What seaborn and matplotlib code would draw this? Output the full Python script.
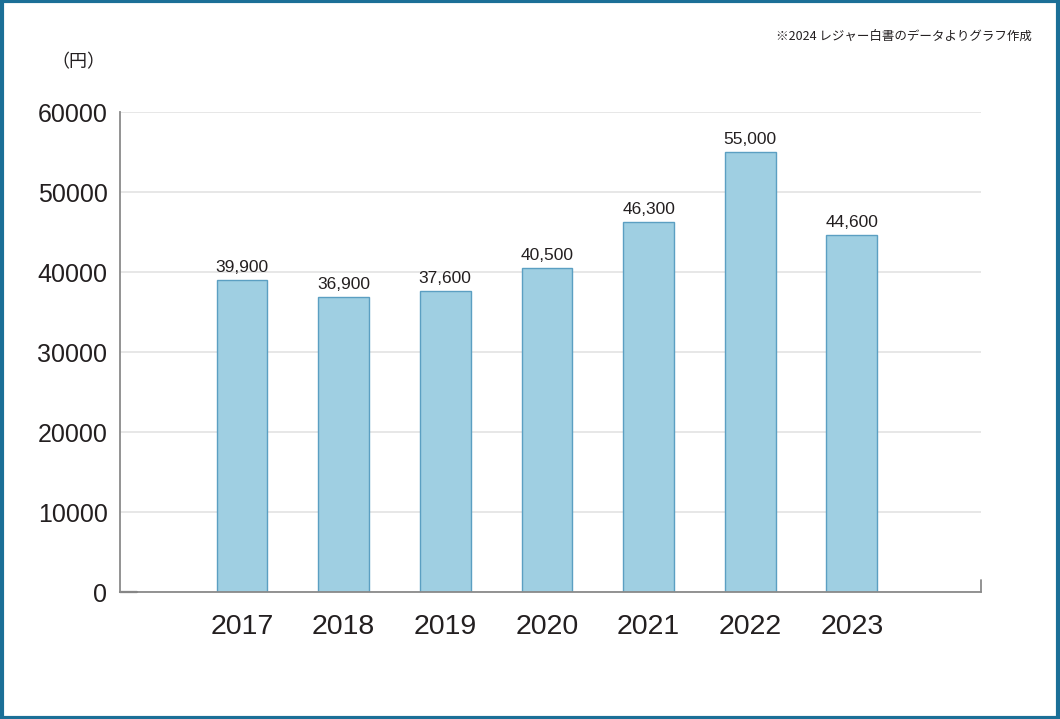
import matplotlib
matplotlib.use("Agg")
import matplotlib.pyplot as plt
import seaborn as sns
import pandas as pd
from matplotlib.patches import Rectangle

# データ（棒の高さは図から読み取り、ラベルは図の表記どおり）
years = ["2017", "2018", "2019", "2020", "2021", "2022", "2023"]
bar_heights = [39000, 36900, 37600, 40500, 46300, 55000, 44600]
value_labels = ["39,900", "36,900", "37,600", "40,500", "46,300", "55,000", "44,600"]
y_ticks = [0, 10000, 20000, 30000, 40000, 50000, 60000]

sns.set_theme(style="white")
plt.rcParams['font.family'] = ['Noto Sans CJK JP', 'DejaVu Sans']
num_font = ['Liberation Sans', 'DejaVu Sans']
text_color = '#231f20'

df = pd.DataFrame({'year': years, 'value': bar_heights})

fig = plt.figure(figsize=(10.6, 7.19), dpi=100)
ax = fig.add_axes([120 / 1060, 1 - 592 / 719, (981 - 120) / 1060, (592 - 112) / 719])

sns.barplot(data=df, x='year', y='value', ax=ax, color='#9fcfe2',
            edgecolor='#5b9fc2', linewidth=1.0, width=0.5, saturation=1)

ax.set_xlim(-1.2, 7.27)
ax.set_ylim(0, 60000)
ax.set_yticks(y_ticks)
ax.set_yticklabels([str(t) for t in y_ticks])
ax.yaxis.grid(True, color='#e3e3e3', linewidth=1.2)
ax.set_axisbelow(True)
ax.set_xlabel('')
ax.set_ylabel('')

for s in ['top', 'right']:
    ax.spines[s].set_visible(False)
for s in ['left', 'bottom']:
    ax.spines[s].set_color('#8a8a8a')
    ax.spines[s].set_linewidth(1.3)

ax.tick_params(axis='y', length=0, pad=9)
ax.tick_params(axis='x', length=0, pad=15.5)
for lab in ax.get_yticklabels():
    lab.set_fontfamily(num_font)
    lab.set_fontsize(18)
    lab.set_color(text_color)
for lab in ax.get_xticklabels():
    lab.set_fontfamily(num_font)
    lab.set_fontsize(20.5)
    lab.set_color(text_color)

# 右端と0の小さな目盛り
ax.plot([1, 1], [0, 0.025], transform=ax.transAxes, color='#8a8a8a', lw=1.3, clip_on=False)
ax.plot([0, 0.02], [0, 0], transform=ax.transAxes, color='#666666', lw=1.6, clip_on=False)

# 値ラベル
for i, (h, lab) in enumerate(zip(bar_heights, value_labels)):
    ax.text(i, h + 600, lab, ha='center', va='bottom', fontsize=12.5,
            color=text_color, family=num_font)

fig.text(78 / 1060, 1 - 62 / 719, '（円）', ha='center', va='center', fontsize=13, color=text_color)
fig.text(1032 / 1060, 1 - 36 / 719, '※2024 レジャー白書のデータよりグラフ作成',
         ha='right', va='center', fontsize=9, color=text_color)

# 外枠
fig.patches.append(Rectangle((0.0015, 0.002), 0.997, 0.996, transform=fig.transFigure,
                             fill=False, edgecolor='#1b6f97', linewidth=3))

fig.savefig('out.png', dpi=100)
